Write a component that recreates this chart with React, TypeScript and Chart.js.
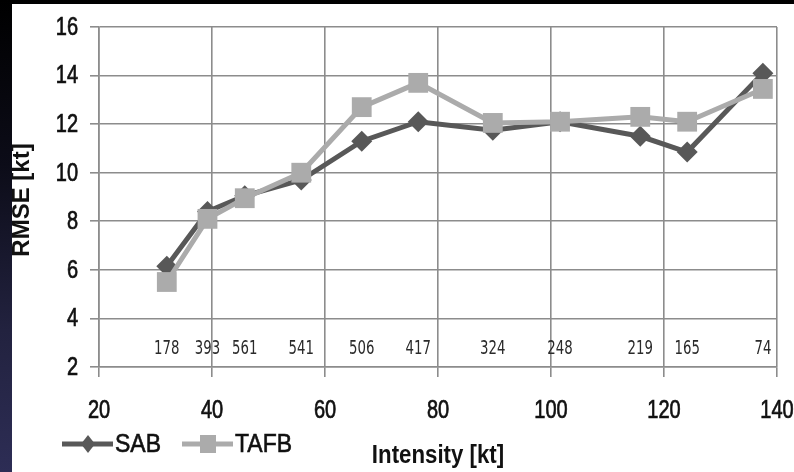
import React, { useEffect, useRef } from "react";
import { Chart, registerables } from "chart.js";

Chart.register(...registerables);

const intensity = [32.0, 39.2, 45.8, 55.8, 66.5, 76.5, 89.7, 101.6, 115.8, 124.1, 137.5];
const sab = [6.15, 8.4, 9.05, 9.7, 11.3, 12.1, 11.75, 12.1, 11.5, 10.85, 14.1];
const tafb = [5.5, 8.1, 8.95, 10.0, 12.7, 13.7, 12.05, 12.1, 12.3, 12.1, 13.45];
const counts = ["178", "393", "561", "541", "506", "417", "324", "248", "219", "165", "74"];
const countLevel = 2.72;
const seriesNames = ["SAB", "TAFB"];
const xTitle = "Intensity [kt]";
const yTitle = "RMSE [kt]";

const SAB_COLOR = "#585858";
const TAFB_COLOR = "#ababab";
const GRID = "#8c8c8c";
const SANS = "'Liberation Sans', Arial, sans-serif";

function squeezedText(ctx: any, text: string, x: number, y: number, sx: number, align: string, stroke = 0) {
  ctx.save();
  ctx.translate(x, y);
  ctx.scale(sx, 1);
  ctx.textAlign = align;
  ctx.fillText(text, 0, 0);
  if (stroke > 0) {
    ctx.lineWidth = stroke;
    ctx.strokeStyle = ctx.fillStyle;
    ctx.strokeText(text, 0, 0);
  }
  ctx.restore();
}

const overlayPlugin = {
  id: "overlay",
  afterDatasetsDraw(chart: any) {
    const ctx = chart.ctx;
    const xs = chart.scales.x;
    const ys = chart.scales.y;
    ctx.save();
    ctx.fillStyle = "#2a2a2a";
    ctx.font = "19px 'DejaVu Sans', sans-serif";
    ctx.textBaseline = "middle";
    const yy = ys.getPixelForValue(countLevel);
    counts.forEach((c, i) => {
      squeezedText(ctx, c, xs.getPixelForValue(intensity[i]), yy, 0.7, "center");
    });
    ctx.restore();
  },
  afterDraw(chart: any) {
    const ctx = chart.ctx;
    const xs = chart.scales.x;
    const ys = chart.scales.y;
    ctx.save();
    // tick labels
    ctx.fillStyle = "#111";
    ctx.font = "25px " + SANS;
    ctx.textBaseline = "middle";
    xs.ticks.forEach((t: any) => {
      squeezedText(ctx, String(t.value), xs.getPixelForValue(t.value), 407, 0.8, "center", 0.7);
    });
    ys.ticks.forEach((t: any) => {
      squeezedText(ctx, String(t.value), 66, ys.getPixelForValue(t.value) + 1, 0.8, "right", 0.7);
    });
    // x title
    ctx.font = "bold 25px " + SANS;
    squeezedText(ctx, xTitle, (xs.left + xs.right) / 2, 452, 0.89, "center");
    // y title
    ctx.save();
    ctx.translate(10, (ys.top + ys.bottom) / 2 + 3);
    ctx.rotate(-Math.PI / 2);
    ctx.font = "bold 24px " + SANS;
    ctx.textAlign = "center";
    ctx.textBaseline = "middle";
    ctx.fillText(yTitle, 0, 0);
    ctx.restore();
    // legend
    const ly = 440;
    const items = [
      { name: seriesNames[0], color: SAB_COLOR, style: "diamond", x0: 50 },
      { name: seriesNames[1], color: TAFB_COLOR, style: "square", x0: 170 },
    ];
    items.forEach((it) => {
      ctx.strokeStyle = it.color;
      ctx.lineWidth = 5;
      ctx.beginPath();
      ctx.moveTo(it.x0, ly);
      ctx.lineTo(it.x0 + 51, ly);
      ctx.stroke();
      ctx.fillStyle = it.color;
      const cx = it.x0 + 26;
      if (it.style === "diamond") {
        ctx.beginPath();
        ctx.moveTo(cx, ly - 9);
        ctx.lineTo(cx + 7, ly);
        ctx.lineTo(cx, ly + 9);
        ctx.lineTo(cx - 7, ly);
        ctx.closePath();
        ctx.fill();
      } else {
        ctx.fillRect(cx - 8, ly - 9, 16, 18);
      }
      ctx.fillStyle = "#111";
      ctx.font = "25px " + SANS;
      ctx.textBaseline = "middle";
      squeezedText(ctx, it.name, it.x0 + 53, ly + 1, 0.92, "left", 0.6);
    });
    ctx.restore();
  },
};

export default function App() {
  const ref = useRef<HTMLCanvasElement>(null);
  useEffect(() => {
    document.body.style.margin = "0";
    const chart = new Chart(ref.current as HTMLCanvasElement, {
      type: "line",
      data: {
        datasets: [
          {
            label: seriesNames[0],
            data: intensity.map((x, i) => ({ x, y: sab[i] })),
            borderColor: SAB_COLOR,
            backgroundColor: SAB_COLOR,
            borderWidth: 5,
            pointStyle: "rectRot",
            pointRadius: 10.5,
            pointBorderWidth: 0,
            tension: 0,
            order: 1,
          },
          {
            label: seriesNames[1],
            data: intensity.map((x, i) => ({ x, y: tafb[i] })),
            borderColor: TAFB_COLOR,
            backgroundColor: TAFB_COLOR,
            borderWidth: 5,
            pointStyle: "rect",
            pointRadius: 14,
            pointBorderWidth: 0,
            tension: 0,
            order: 0,
          },
        ],
      },
      options: {
        responsive: false,
        animation: false,
        layout: { padding: { top: 23, right: 17, left: 0, bottom: 0 } },
        plugins: { legend: { display: false }, tooltip: { enabled: false } },
        scales: {
          x: {
            type: "linear",
            min: 20,
            max: 140,
            ticks: { stepSize: 20, display: false },
            grid: { color: GRID, lineWidth: 1.6, tickLength: 10, tickColor: GRID },
            border: { color: GRID, width: 1.6 },
            afterFit: (s: any) => {
              s.height = 105;
              s.paddingLeft = 0;
              s.paddingRight = 0;
            },
          },
          y: {
            min: 2,
            max: 16,
            ticks: { stepSize: 2, display: false },
            grid: { color: GRID, lineWidth: 1.6, tickLength: 9, tickColor: GRID },
            border: { color: GRID, width: 1.6 },
            afterFit: (s: any) => {
              s.width = 87;
              s.paddingTop = 0;
              s.paddingBottom = 0;
            },
          },
        },
      },
      plugins: [overlayPlugin],
    } as any);
    return () => chart.destroy();
  }, []);

  return (
    <div
      style={{
        position: "relative",
        width: 794,
        height: 472,
        overflow: "hidden",
        background: "linear-gradient(180deg, #000 0%, #0c0c18 35%, #22223f 70%, #2d2d55 100%)",
      }}
    >
      <div style={{ position: "absolute", left: 12, top: 4, width: 782, height: 468, background: "#fff" }}>
        <canvas ref={ref} width={782} height={468} style={{ display: "block" }} />
      </div>
    </div>
  );
}
